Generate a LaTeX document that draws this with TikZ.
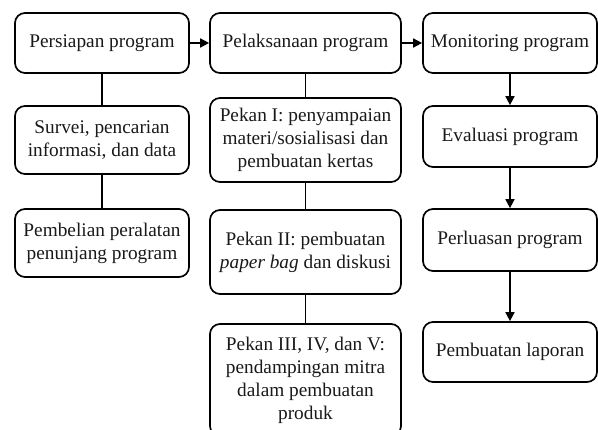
\documentclass[tikz,border=0pt]{standalone}
\usepackage{fontspec}
\setmainfont{Liberation Serif}
\usetikzlibrary{arrows.meta}
\begin{document}
\begin{tikzpicture}[x=1pt,y=-1pt,
  box/.style={draw,line width=1.7pt,rounded corners=10pt,inner sep=0pt,align=center,
    font=\fontsize{19.3}{23}\selectfont,text=black!90},
  c1/.style={box,minimum width=174pt},
  c2/.style={box,minimum width=191pt},
  c3/.style={box,minimum width=174pt},
  link/.style={line width=1.7pt},
  arr/.style={line width=1.7pt,-{Triangle[length=9pt,width=9pt]}}]
\useasboundingbox (0,0) rectangle (598,430);
\clip (0,0) rectangle (598,430);
% column 1
\node[c1,minimum height=60pt] (p1) at (102,43) {Persiapan program};
\node[c1,minimum height=68pt] (p2) at (102,140) {Survei, pencarian\\informasi, dan data};
\node[c1,minimum height=68pt] (p3) at (102,243) {Pembelian peralatan\\penunjang program};
% column 2
\node[c2,minimum height=60pt] (q1) at (305.5,43) {Pelaksanaan program};
\node[c2,minimum height=84pt] (q2) at (305.5,140) {Pekan I: penyampaian\\materi/sosialisasi dan\\pembuatan kertas};
\node[c2,minimum height=84pt] (q3) at (305.5,252) {Pekan II: pembuatan\\\textit{paper bag} dan diskusi};
\node[c2,minimum height=112pt] (q4) at (305.5,380) {Pekan III, IV, dan V:\\pendampingan mitra\\dalam pembuatan\\produk};
% column 3
\node[c3,minimum height=60pt] (r1) at (510,43) {Monitoring program};
\node[c3,minimum height=61pt] (r2) at (510,136.5) {Evaluasi program};
\node[c3,minimum height=62pt] (r3) at (510,240) {Perluasan program};
\node[c3,minimum height=60pt] (r4) at (510,352) {Pembuatan laporan};
% connectors
\draw[arr] (p1) -- (q1);
\draw[arr] (q1) -- (r1);
\draw[link] (p1) -- (p2);
\draw[link] (p2) -- (p3);
\draw[link] (q1) -- (q2);
\draw[link] (q2) -- (q3);
\draw[link] (q3) -- (q4);
\draw[arr] (r1) -- (r2);
\draw[arr] (r2) -- (r3);
\draw[arr] (r3) -- (r4);
\end{tikzpicture}
\end{document}
